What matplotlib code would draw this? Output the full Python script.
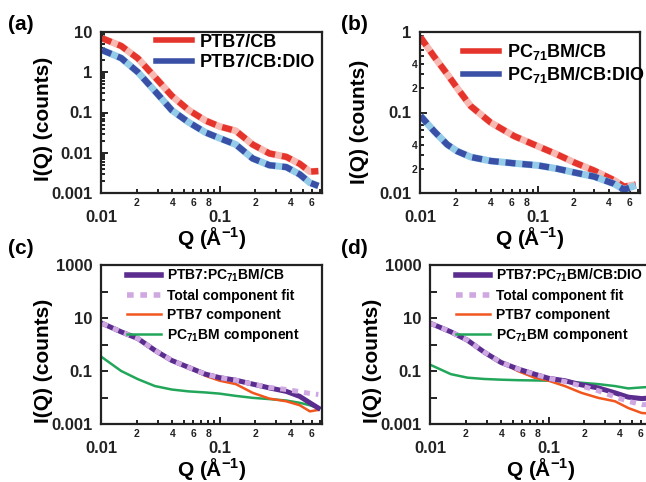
import numpy as np
import matplotlib
matplotlib.use("Agg")
import matplotlib.pyplot as plt
from matplotlib.ticker import LogLocator, FuncFormatter, NullFormatter
from matplotlib.lines import Line2D

plt.rcParams['font.family'] = ['Liberation Sans', 'DejaVu Sans']
plt.rcParams['font.weight'] = 'bold'
plt.rcParams['mathtext.fontset'] = 'custom'
plt.rcParams['mathtext.rm'] = 'Liberation Sans:bold'
plt.rcParams['mathtext.bf'] = 'Liberation Sans:bold'
plt.rcParams['mathtext.it'] = 'Liberation Sans:bold'
plt.rcParams['mathtext.default'] = 'bf'

# (a) PTB7 films
q_a = [0.0102, 0.0148, 0.0205, 0.0285, 0.0395, 0.0548, 0.076, 0.1, 0.137,
       0.19, 0.263, 0.365, 0.474, 0.577, 0.68]
ptb7_cb = [7.0, 4.5, 2.2, 0.76, 0.26, 0.115, 0.063, 0.045, 0.035, 0.016,
           0.0096, 0.0079, 0.0053, 0.0034, 0.0035]
ptb7_dio = [3.55, 2.25, 1.0, 0.34, 0.114, 0.057, 0.032, 0.023, 0.016, 0.0072,
            0.0049, 0.0044, 0.0029, 0.0018, 0.0015]

# (b) PC71BM films
q_b = [0.0101, 0.0131, 0.017, 0.0207, 0.0269, 0.0397, 0.0626, 0.1, 0.146,
       0.202, 0.298, 0.441, 0.535, 0.672]
pcbm_cb = [0.86, 0.5, 0.3, 0.2, 0.12, 0.075, 0.051, 0.038, 0.03, 0.024,
           0.019, 0.0144, 0.012, 0.0127]
pcbm_dio = [0.091, 0.059, 0.04, 0.033, 0.028, 0.025, 0.0234, 0.022, 0.02,
            0.018, 0.016, 0.013, 0.011, 0.0124]

# (c) blend from CB
q_c = q_a
blend_cb = [6.3, 3.0, 1.67, 0.6, 0.25, 0.137, 0.076, 0.056, 0.045, 0.032,
            0.023, 0.017, 0.011, 0.0063, 0.004]
fit_cb = [6.3, 3.0, 1.67, 0.6, 0.25, 0.137, 0.076, 0.056, 0.045, 0.032,
          0.024, 0.02, 0.0166, 0.0142, 0.013]
ptb7_comp_cb = [6.3, 3.0, 1.67, 0.6, 0.25, 0.13, 0.066, 0.043, 0.032, 0.015,
                0.0091, 0.0072, 0.0051, 0.003, 0.0034]
pcbm_comp_cb = [0.33, 0.1, 0.049, 0.027, 0.02, 0.017, 0.0155, 0.014, 0.0115,
                0.0097, 0.0087, 0.0077, 0.0063, 0.0051, 0.004]

# (d) blend from CB:DIO
q_d = [0.0101, 0.015, 0.0207, 0.0287, 0.0397, 0.055, 0.076, 0.1, 0.137,
       0.189, 0.262, 0.363, 0.47, 0.61, 0.7]
blend_dio = [6.3, 3.0, 1.45, 0.51, 0.21, 0.12, 0.076, 0.053, 0.043, 0.03,
             0.023, 0.015, 0.0103, 0.0091, 0.0095]
fit_dio = [6.3, 3.0, 1.45, 0.51, 0.21, 0.12, 0.076, 0.053, 0.04, 0.027,
           0.018, 0.0105, 0.0072, 0.0054, 0.0054]
ptb7_comp_dio = [6.3, 3.0, 1.45, 0.51, 0.21, 0.1, 0.056, 0.043, 0.027, 0.015,
                 0.0097, 0.0072, 0.004, 0.0026, 0.0025]
pcbm_comp_dio = [0.17, 0.076, 0.056, 0.05, 0.047, 0.045, 0.044, 0.043, 0.04,
                 0.036, 0.032, 0.027, 0.022, 0.024, 0.025]

W, H = 646, 482
fig = plt.figure(figsize=(W / 100, H / 100), dpi=100)


def box(l, t, r, b):
    return [l / W, 1 - b / H, (r - l) / W, (b - t) / H]


def minor_lab(keep):
    def f(v, pos):
        d = int(round(v / 10 ** np.floor(np.log10(v) + 1e-9)))
        return str(d) if d in keep else ''
    return FuncFormatter(f)


def setup(ax, ylim, yticks, ylabels, yminor_keep=None, ylab_y=0.45):
    ax.set_xscale('log')
    ax.set_yscale('log')
    ax.set_xlim(0.01, 0.73)
    ax.set_ylim(*ylim)
    ax.set_xticks([0.01, 0.1])
    ax.set_xticklabels(['0.01', '0.1'])
    ax.xaxis.set_minor_locator(LogLocator(base=10, subs=np.arange(2, 10)))
    ax.xaxis.set_minor_formatter(minor_lab((2, 4, 6, 8)))
    ax.set_yticks(yticks)
    ax.set_yticklabels(ylabels)
    if yminor_keep is None:
        ax.yaxis.set_minor_locator(LogLocator(base=10, subs=np.arange(2, 10)))
        ax.yaxis.set_minor_formatter(NullFormatter())
    elif yminor_keep == 'none':
        ax.yaxis.set_minor_locator(plt.NullLocator())
    else:
        ax.yaxis.set_minor_locator(LogLocator(base=10, subs=np.arange(2, 10)))
        ax.yaxis.set_minor_formatter(minor_lab(yminor_keep))
    ax.tick_params(which='both', direction='in', width=1.4, colors='#222222')
    ax.tick_params(which='major', length=5)
    ax.tick_params(which='minor', length=3, labelsize=7.5)
    ax.tick_params(axis='x', which='major', pad=12, labelsize=12)
    ax.tick_params(axis='x', which='minor', pad=3.5)
    ax.tick_params(axis='y', which='major', pad=6, labelsize=12)
    ax.tick_params(axis='y', which='minor', pad=2)
    for s in ax.spines.values():
        s.set_linewidth(1.6)
        s.set_color('#222222')
    ax.set_xlabel(r'Q (Å$^{-1}$)', fontsize=15, fontweight='bold')
    ax.set_ylabel('I(Q) (counts)', fontsize=15, fontweight='bold')
    ax.xaxis.set_label_coords(0.5, -0.2)
    ax.yaxis.set_label_coords(-0.215, ylab_y)


def band(ax, q, v, dark, light):
    ax.plot(q, v, color=light, lw=5, solid_capstyle='butt')
    ax.plot(q, v, color=dark, lw=4.5, dashes=(1.6, 1.1))


red, pink = '#e5342c', '#f7b9b2'
blue, lblue = '#3a4fa6', '#93cbe8'
purple, lilac = '#5b2d8e', '#cfa8e2'
orange, green = '#f0561e', '#22a65a'

# (a)
ax1 = fig.add_axes(box(101, 32, 322, 193))
band(ax1, q_a, ptb7_cb, red, pink)
band(ax1, q_a, ptb7_dio, blue, lblue)
setup(ax1, (0.001, 10), [0.001, 0.01, 0.1, 1, 10],
      ['0.001', '0.01', '0.1', '1', '10'], ylab_y=0.46)
h = [Line2D([], [], color=red, lw=4), Line2D([], [], color=blue, lw=4)]
ax1.legend(h, ['PTB7/CB', 'PTB7/CB:DIO'], loc='upper left',
           bbox_to_anchor=(0.24, 1.0), frameon=False, fontsize=13,
           handlelength=2.0, handletextpad=0.45, labelspacing=0.2,
           borderaxespad=0, borderpad=0.1)

# (b)
ax2 = fig.add_axes(box(420, 32, 640, 193))
band(ax2, q_b, pcbm_cb, red, pink)
band(ax2, q_b, pcbm_dio, blue, lblue)
setup(ax2, (0.01, 1), [0.01, 0.1, 1], ['0.01', '0.1', '1'],
      yminor_keep=(2, 4), ylab_y=0.44)
ax2.yaxis.set_label_coords(-0.23, 0.44)
ax2.legend(h, [r'PC$_{71}$BM/CB', r'PC$_{71}$BM/CB:DIO'], loc='upper left',
           bbox_to_anchor=(0.185, 0.95), frameon=False, fontsize=13,
           handlelength=2.0, handletextpad=0.45, labelspacing=0.2,
           borderaxespad=0, borderpad=0.1)

# (c) and (d)
dec = [0.001, 0.01, 0.1, 1, 10, 100, 1000]
declab = ['0.001', '', '0.1', '', '10', '', '1000']
blend_names = [r'PTB7:PC$_{71}$BM/CB', r'PTB7:PC$_{71}$BM/CB:DIO']
panels = [
    (box(101, 265, 322, 424), q_c, blend_cb, fit_cb, ptb7_comp_cb, pcbm_comp_cb),
    (box(430, 265, 651, 424), q_d, blend_dio, fit_dio, ptb7_comp_dio, pcbm_comp_dio),
]
for i, (pos, q, data, fit, comp1, comp2) in enumerate(panels):
    ax = fig.add_axes(pos)
    ax.plot(q, comp2, color=green, lw=1.8)
    ax.plot(q, comp1, color=orange, lw=1.8)
    ax.plot(q, data, color=purple, lw=3.6)
    ax.plot(q, fit, color=lilac, lw=3.6, dashes=(1.2, 1.2))
    setup(ax, (0.001, 1000), dec, declab, yminor_keep='none', ylab_y=0.4)
    hh = [Line2D([], [], color=purple, lw=4),
          Line2D([], [], color=lilac, lw=4, dashes=(1.2, 1.2)),
          Line2D([], [], color=orange, lw=1.8),
          Line2D([], [], color=green, lw=1.8)]
    ax.legend(hh, [blend_names[i], 'Total component fit', 'PTB7 component',
                   r'PC$_{71}$BM component'],
              loc='upper left', bbox_to_anchor=(0.11, 1.0), frameon=False,
              fontsize=10, handlelength=2.4, handletextpad=0.45,
              labelspacing=0.35, borderaxespad=0, borderpad=0.15)

for lab, x, y in [('(a)', 8, 25), ('(b)', 341, 25), ('(c)', 8, 248), ('(d)', 341, 248)]:
    fig.text(x / W, 1 - y / H, lab, fontsize=15, fontweight='bold', va='center')

fig.savefig('out.png', dpi=100)
